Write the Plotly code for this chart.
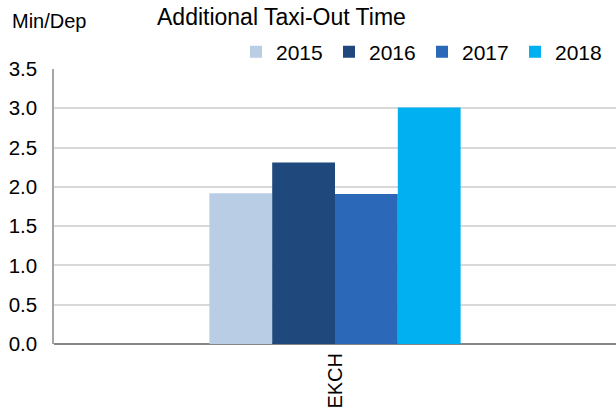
import plotly.graph_objects as go

airports = ["EKCH"]
years = ["2015", "2016", "2017", "2018"]
values = {
    "2015": [1.92],
    "2016": [2.31],
    "2017": [1.91],
    "2018": [3.01],
}
colors = {
    "2015": "#B9CDE5",
    "2016": "#1F497D",
    "2017": "#2B68B8",
    "2018": "#00B0F0",
}
y_ticks = [0.0, 0.5, 1.0, 1.5, 2.0, 2.5, 3.0, 3.5]

W, H = 616, 416
M_L, M_R, M_T, M_B = 54, 0, 69, 72
PW, PH = W - M_L - M_R, H - M_T - M_B


def px_x(px):
    return (px - M_L) / PW


def px_y(py):
    return (H - M_B - py) / PH


fig = go.Figure()
for yr in years:
    fig.add_trace(go.Bar(
        x=airports, y=values[yr], name=yr,
        marker=dict(color=colors[yr], line=dict(width=0)),
    ))

font_family = "Liberation Sans, Arial, sans-serif"
fig.update_layout(
    width=W, height=H,
    margin=dict(l=M_L, r=M_R, t=M_T, b=M_B, autoexpand=False),
    paper_bgcolor="white", plot_bgcolor="white",
    barmode="group", bargap=0.553, bargroupgap=0,
    font=dict(family=font_family, size=20, color="#000000"),
    showlegend=True,
    legend=dict(
        orientation="h", x=236 / W, xref="container", y=px_y(52),
        yanchor="middle", xanchor="left", entrywidth=48,
        font=dict(size=21), itemwidth=30, tracegroupgap=0,
        bgcolor="rgba(0,0,0,0)",
    ),
    xaxis=dict(
        tickangle=-90, showgrid=False, showline=False, ticks="",
        tickfont=dict(size=20), ticklabelstandoff=4,
    ),
    yaxis=dict(
        range=[0, 3.5], tickvals=y_ticks,
        ticktext=[f"{v:.1f}" for v in y_ticks],
        showgrid=True, gridcolor="#D9D9D9", gridwidth=1.5,
        showline=True, linecolor="#A6A6A6", linewidth=1.5,
        zeroline=True, zerolinecolor="#868686", zerolinewidth=2,
        ticks="", tickfont=dict(size=20.5), ticklabelstandoff=11,
    ),
    annotations=[
        dict(text="Min/Dep", x=px_x(10), y=px_y(21), xref="paper",
             yref="paper", xanchor="left", yanchor="middle",
             showarrow=False, font=dict(size=20)),
        dict(text="Additional Taxi-Out Time", x=px_x(155), y=px_y(17),
             xref="paper", yref="paper", xanchor="left", yanchor="middle",
             showarrow=False, font=dict(size=23)),
    ],
)

fig.write_html("out.html")
